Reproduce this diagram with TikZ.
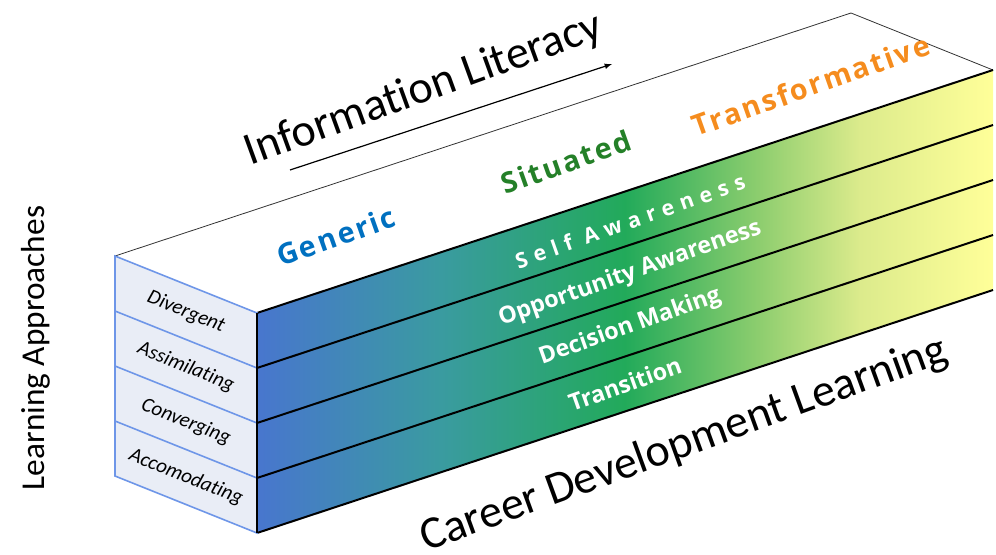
\documentclass[tikz,border=0pt]{standalone}
\usepackage{fontspec}
\setmainfont{Carlito}[Ligatures=NoCommon]
\newfontfamily\levelfont[LetterSpace=8]{Open Sans}
\newfontfamily\stripfont{Open Sans}
\newfontfamily\spacedfont[LetterSpace=32]{Open Sans}
\usetikzlibrary{arrows,calc,positioning}
\definecolor{genericblue}{RGB}{0,112,192}
\definecolor{situatedgreen}{RGB}{36,128,40}
\definecolor{transorange}{RGB}{245,140,30}
\definecolor{faceblue}{RGB}{233,237,246}
\definecolor{edgeblue}{RGB}{110,150,232}
\definecolor{shadeA}{RGB}{72,118,206}
\definecolor{shadeB}{RGB}{58,155,160}
\definecolor{shadeC}{RGB}{34,170,90}
\definecolor{shadeD}{RGB}{140,205,110}
\definecolor{shadeE}{RGB}{220,235,140}
\definecolor{shadeF}{RGB}{255,255,153}
\pgfdeclarehorizontalshading{careershading}{100bp}{color(0bp)=(shadeA); color(25bp)=(shadeA);
	color(37.5bp)=(shadeB); color(50bp)=(shadeC); color(59bp)=(shadeD); color(66bp)=(shadeE);
	color(75bp)=(shadeF); color(100bp)=(shadeF)}
\tikzset{%
	topedge/.style   = {draw=black!80, line width=0.6pt}, % top face
	stripedge/.style = {draw=black, line width=1.5pt}, % long face lines
	frontface/.style = {fill=faceblue, draw=edgeblue, line width=1.2pt}, % front face
	frontedge/.style = {draw=edgeblue, line width=1.2pt},
	approach/.style  = {font=\fontsize{15.5}{18}\selectfont\itshape, rotate=-21.9},
	level/.style     = {font=\levelfont\bfseries\fontsize{21.5}{25}\selectfont, rotate=19.5},
	strip/.style     = {text=white, font=\stripfont\bfseries\fontsize{17.5}{20}\selectfont, rotate=19.5},
	axistitle/.style = {font=\fontsize{34.5}{40}\selectfont, rotate=20},
}
\begin{document}
\begin{tikzpicture}[x=0.75pt,y=-0.75pt]
	\useasboundingbox (0,0) rectangle (996,554);
	% corners of the box
	\coordinate (A) at (115,256);
	\coordinate (B) at (257,313);
	\coordinate (C) at (257,533);
	\coordinate (D) at (115,476);
	\coordinate (A2) at (851,13);
	\coordinate (B2) at (993,70);
	\coordinate (C2) at (993,290);
	% top face
	\draw[topedge] (A) -- (A2) -- (B2);
	% long face
	\shade[shading=careershading] (B) -- (B2) -- (C2) -- (C) -- cycle;
	\foreach \k in {0,1,2,3,4}
		\draw[stripedge] ($(B)+(0,55*\k)$) -- ($(B2)+(0,55*\k)$);
	% front face
	\filldraw[frontface] (A) -- (B) -- (C) -- (D) -- cycle;
	\foreach \k in {1,2,3}
		\draw[frontedge] ($(A)+(0,55*\k)$) -- ($(B)+(0,55*\k)$);
	\draw[edgeblue, line width=2pt] (A) -- (D);
	\draw[stripedge] (B) -- (C);
	% labels
	\node[level, text=genericblue] (generic) at (336,236) {Generic};
	\node[level, text=situatedgreen] (situated) at (566,162) {Situated};
	\node[level, text=transorange] (transformative) at (811,85) {Transformative};
	\node[strip, font=\spacedfont\bfseries\fontsize{16}{19}\selectfont] (self) at (630,221) {Self Awareness};
	\node[strip] (opportunity) at (630,274) {Opportunity Awareness};
	\node[strip] (decision) at (630,327) {Decision Making};
	\node[strip] (transition) at (625,384) {Transition};
	\node[approach] (divergent) at (186,312) {Divergent};
	\node[approach] (assimilating) at (186,367) {Assimilating};
	\node[approach] (converging) at (186,422) {Converging};
	\node[approach] (accomodating) at (186,477) {Accomodating};
	\node[axistitle] (literacy) at (424,90) {Information Literacy};
	\node[axistitle] (career) at (684,445) {Career Development Learning};
	\node[font=\fontsize{25}{30}\selectfont, rotate=90] (approaches) at (36,348) {Learning Approaches};
	\coordinate (arrowtail) at (290,170);
	\coordinate (arrowhead) at (612,64);
	\draw[-latex, line width=0.9pt] (arrowtail) -- (arrowhead);
\end{tikzpicture}
\end{document}
